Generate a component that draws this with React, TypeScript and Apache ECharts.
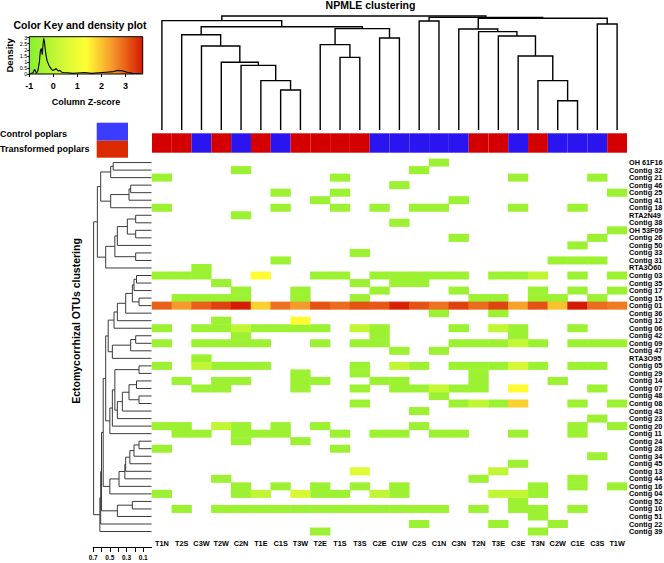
import React, { useEffect, useRef } from 'react';
import * as echarts from 'echarts';

const FONT = '"Liberation Sans", Arial, Helvetica, sans-serif';

// Samples (columns), in dendrogram order
const columns = ['T1N','T2S','C3W','T2W','C2N','T1E','C1S','T3W','T2E','T1S','T3S','C2E','C1W','C2S','C1N','C3N','T2N','T3E','C3E','T3N','C2W','C1E','C3S','T1W'];

// OTUs (rows), top to bottom
const rows = ['OH 61F16','Contig 32','Contig 21','Contig 46','Contig 25','Contig 41','Contig 18','RTA2N49','Contig 38','OH 53F09',
  'Contig 26','Contig 50','Contig 33','Contig 31','RTA3O60','Contig 03','Contig 35','Contig 17','Contig 15','Contig 01',
  'Contig 36','Contig 12','Contig 06','Contig 42','Contig 09','Contig 47','RTA3O95','Contig 05','Contig 29','Contig 14',
  'Contig 07','Contig 48','Contig 08','Contig 43','Contig 23','Contig 20','Contig 11','Contig 24','Contig 28','Contig 34',
  'Contig 45','Contig 13','Contig 44','Contig 16','Contig 04','Contig 52','Contig 10','Contig 51','Contig 22','Contig 39'];

// z-score of the common (lime green) cells
const LIME_Z = -0.6;

// columns holding a lime-green cell, per row
const cellColumns: number[][] = [
  [14],
  [4, 13],
  [0, 9, 18, 22],
  [12],
  [6, 9, 23],
  [8, 15],
  [0, 6, 9, 11, 13, 14, 18, 21],
  [4],
  [12],
  [23],
  [15, 22],
  [21],
  [10],
  [6, 20, 21, 22],
  [2],
  [0, 1, 2, 8, 9, 11, 12, 13, 14, 15, 17, 18, 21, 23],
  [3, 10, 12, 13],
  [4, 7, 11, 15, 19, 21, 23],
  [1, 2, 3, 4, 7, 10, 16, 17, 19, 20, 22],
  [],
  [14, 17],
  [3],
  [0, 2, 3, 5, 6, 7, 8, 11, 15, 18, 21],
  [4, 11, 18],
  [0, 2, 3, 4, 5, 8, 10, 11, 15, 16, 17, 19, 21, 22, 23],
  [12, 14],
  [2],
  [0, 3, 4, 5, 10, 13, 15, 16, 17, 19, 21, 22],
  [7, 10, 16],
  [1, 3, 4, 7, 8, 11, 12, 16, 20],
  [2, 3, 7, 10, 12, 13, 15, 16, 22],
  [14],
  [10, 15, 17, 21, 23],
  [13],
  [22],
  [0, 1, 4, 6, 8, 13, 21, 23],
  [1, 2, 4, 5, 6, 9, 11, 12, 14, 15, 18, 21],
  [4, 7],
  [0, 9],
  [22],
  [18],
  [],
  [3, 16, 21],
  [4, 6, 8, 10, 12, 19, 21, 23],
  [0, 4, 8, 9, 12, 19],
  [18],
  [1, 3, 4, 5, 6, 7, 8, 9, 10, 11, 12, 13, 14, 16, 18, 19, 21],
  [19],
  [13, 17, 20],
  [8, 19],
];

// [row, column, z] for cells that are not lime green
const cellOverrides: [number, number, number][] = [
  [15, 5, 1.4], [15, 19, 0.05],
  [21, 7, 1.4],
  [22, 4, 0.05], [22, 10, 0.05], [22, 17, 0.05],
  [24, 18, 0.1],
  [27, 2, 0.05], [27, 12, 0.05], [27, 18, 0.5],
  [30, 14, 0.1], [30, 18, 1.4],
  [32, 16, 0.05], [32, 18, 1.85],
  [35, 3, 0.05],
  [41, 10, 0.69], [41, 17, 0.05],
  [44, 5, 0.05], [44, 7, 0.5], [44, 11, 0.05], [44, 17, 0.05], [44, 18, 0.05],
];

// Contig 01 row (index 19), all columns
const contig01Row = 19;
const contig01Z = [3.02, 2.42, 3.02, 3.32, 3.7, 1.85, 2.84, 2.42, 3.16, 2.9, 3.16, 3.11, 3.64, 3.16, 2.84, 3.32, 2.9, 3.3, 2.36, 3.16, 2.02, 3.72, 2.9, 2.76];

// Column dendrogram merges: [a, b, height]; numbers = leaves, 'nK' = merge K
const colMerges: [number | string, number | string, number][] = [
  [6, 7, 0.351], [5, 'n0', 0.433], [4, 'n1', 0.567], [3, 'n2', 0.594], [2, 'n3', 0.737], [1, 'n4', 0.836],
  [9, 10, 0.637], [8, 'n6', 0.749], [11, 12, 0.807], ['n7', 'n8', 0.889], ['n5', 'n9', 0.906], [0, 'n10', 0.959],
  [13, 14, 0.956], [20, 21, 0.257], [19, 'n13', 0.433], [18, 'n14', 0.649], [17, 'n15', 0.825], [16, 'n16', 0.863],
  [15, 'n17', 0.886], [22, 23, 0.930], ['n18', 'n19', 0.980], ['n12', 'n20', 0.988], ['n11', 'n21', 1.0],
];

// Row dendrogram merges (heights on the 0–0.7 distance scale)
const rowMerges: [number | string, number | string, number][] = [
  [0, 1, 0.46], ['n0', 2, 0.49], [3, 4, 0.25], ['n2', 5, 0.27], ['n3', 6, 0.49], ['n1', 'n4', 0.61],
  [7, 8, 0.19], [9, 10, 0.19], ['n6', 'n7', 0.29], ['n8', 11, 0.41], [12, 13, 0.19], ['n9', 'n10', 0.44],
  ['n11', 14, 0.55], ['n5', 'n12', 0.65],
  [15, 16, 0.18], ['n14', 17, 0.21], [18, 19, 0.15], ['n15', 'n16', 0.23], ['n17', 20, 0.31], ['n18', 21, 0.41],
  ['n19', 22, 0.45], [23, 24, 0.19], ['n21', 25, 0.25], ['n22', 26, 0.47], ['n20', 'n23', 0.52],
  [27, 28, 0.15], [29, 30, 0.18], [31, 32, 0.15], ['n26', 'n27', 0.27], ['n28', 33, 0.35], ['n29', 34, 0.41],
  ['n25', 'n30', 0.44], ['n31', 35, 0.47], ['n32', 36, 0.5], ['n24', 'n33', 0.55],
  [37, 38, 0.15], ['n35', 39, 0.21], ['n36', 40, 0.26], ['n37', 41, 0.31], ['n38', 42, 0.32], ['n39', 43, 0.39],
  ['n40', 44, 0.5], ['n34', 'n41', 0.58], [45, 46, 0.23], ['n43', 47, 0.41], ['n42', 'n44', 0.6],
  ['n45', 48, 0.61], ['n46', 49, 0.62], ['n13', 'n47', 0.695],
];

// Density curve of the colour key
const densityZ = [-0.95, -0.85, -0.78, -0.7, -0.64, -0.58, -0.54, -0.5, -0.46, -0.43, -0.4, -0.37, -0.34, -0.3, -0.26, -0.22, -0.18, -0.13, -0.08, -0.02, 0.05, 0.12, 0.2, 0.27, 0.35, 0.45, 0.6, 0.8, 1.0, 1.3, 1.6, 1.9, 2.2, 2.5, 2.7, 2.9, 3.1, 3.3, 3.6];
const densityY = [0.02, 0.1, 0.4, 0.05, 0.3, 1.0, 1.9, 2.1, 1.6, 2.4, 2.95, 2.7, 2.1, 1.5, 1.1, 0.9, 0.7, 0.55, 0.4, 0.3, 0.35, 0.45, 0.25, 0.3, 0.15, 0.12, 0.1, 0.05, 0.08, 0.12, 0.05, 0.1, 0.15, 0.2, 0.3, 0.25, 0.12, 0.05, 0.04];

const KEY_MIN = -1;
const KEY_MAX = 3.72;
const KEY_COLORS = ['#86f030', '#c8f736', '#ffff33', '#f5902a', '#d41a00'];
const BAR_RED = '#d40000';
const BAR_BLUE = '#2a14f0';

function dendroSegments(merges: [number | string, number | string, number][], orient: 'top' | 'left') {
  const segs: number[][] = [];
  const nodes: [number, number][] = [];
  const get = (ref: number | string): [number, number] =>
    typeof ref === 'number' ? [ref + 0.5, 0] : nodes[parseInt(String(ref).slice(1), 10)];
  merges.forEach(([a, b, h]) => {
    const [pa, ha] = get(a);
    const [pb, hb] = get(b);
    segs.push(orient === 'top' ? [pa, ha, pa, h, pb, h, pb, hb] : [ha, pa, h, pa, h, pb, hb, pb]);
    nodes.push([(pa + pb) / 2, h]);
  });
  return segs;
}

function polyRender(color: string, width: number) {
  return (params: any, api: any) => {
    const pts = [0, 1, 2, 3].map((k) => api.coord([api.value(2 * k), api.value(2 * k + 1)]));
    return {
      type: 'polyline',
      shape: { points: pts },
      style: { stroke: color, lineWidth: width, fill: 'none' },
      silent: true,
    };
  };
}

export default function App() {
  const ref = useRef<HTMLDivElement>(null);
  useEffect(() => {
    if (!ref.current) return;
    const chart = echarts.init(ref.current, undefined, { renderer: 'svg' });

    const heatData: number[][] = [];
    cellColumns.forEach((cols, r) => cols.forEach((c) => heatData.push([c, r, LIME_Z])));
    cellOverrides.forEach(([r, c, z]) => heatData.push([c, r, z]));
    contig01Z.forEach((z, c) => heatData.push([c, contig01Row, z]));

    const topSegs = dendroSegments(colMerges, 'top');
    const leftSegs = dendroSegments(rowMerges, 'left');

    const gridBase = { outerBoundsMode: 'none', containLabel: false };
    const boldText = { fontFamily: FONT, fontWeight: 'bold', color: '#000' };

    const option: any = {
      animation: false,
      backgroundColor: '#ffffff',
      textStyle: { fontFamily: FONT },
      grid: [
        { ...gridBase, left: 152, top: 16, width: 475, height: 114 },
        { ...gridBase, left: 152, top: 133.3, width: 475, height: 19.4 },
        { ...gridBase, left: 152, top: 158.8, width: 475, height: 376.5 },
        { ...gridBase, left: 93.2, top: 158.8, width: 58.3, height: 376.5 },
        {
          ...gridBase, left: 29.3, top: 36.7, width: 113.4, height: 37.3, show: true,
          borderColor: '#000', borderWidth: 1,
          backgroundColor: new echarts.graphic.LinearGradient(0, 0, 1, 0,
            KEY_COLORS.map((c, i) => ({ offset: i / (KEY_COLORS.length - 1), color: c }))),
        },
      ],
      xAxis: [
        { gridIndex: 0, type: 'value', min: 0, max: 24, show: false },
        { gridIndex: 1, type: 'category', data: columns, show: false },
        {
          gridIndex: 2, type: 'category', data: columns, position: 'bottom',
          axisLine: { show: false }, axisTick: { show: false }, splitLine: { show: false },
          axisLabel: { ...boldText, interval: 0, fontSize: 7.3, margin: 5 },
        },
        {
          gridIndex: 3, type: 'value', min: 0, max: 0.7, inverse: true, position: 'bottom', offset: 11.7,
          splitLine: { show: false },
          axisLine: { show: true, onZero: false, lineStyle: { color: '#000', width: 1 } },
          axisTick: { show: true, length: 5, lineStyle: { color: '#000', width: 1 }, customValues: [0.1, 0.2, 0.3, 0.4, 0.5, 0.6, 0.7] },
          axisLabel: { ...boldText, fontSize: 6.5, margin: 7, customValues: [0.1, 0.3, 0.5, 0.7], formatter: (v: number) => v.toFixed(1) },
        },
        {
          gridIndex: 4, type: 'value', min: KEY_MIN, max: KEY_MAX, splitLine: { show: false },
          axisLine: { show: false, onZero: false },
          axisTick: { show: true, length: 3, lineStyle: { color: '#000' }, customValues: [-1, 0, 1, 2, 3] },
          axisLabel: { ...boldText, fontSize: 9, margin: 7, customValues: [-1, 0, 1, 2, 3] },
          name: 'Column Z-score', nameLocation: 'middle', nameGap: 23,
          nameTextStyle: { ...boldText, fontSize: 9 },
        },
      ],
      yAxis: [
        { gridIndex: 0, type: 'value', min: 0, max: 1, show: false },
        { gridIndex: 1, type: 'value', min: 0, max: 1, show: false },
        {
          gridIndex: 2, type: 'category', data: rows, inverse: true, position: 'right',
          axisLine: { show: false }, axisTick: { show: false }, splitLine: { show: false },
          axisLabel: { ...boldText, interval: 0, fontSize: 7.3, margin: 2 },
        },
        { gridIndex: 3, type: 'value', min: 0, max: 50, inverse: true, show: false },
        {
          gridIndex: 4, type: 'value', min: 0, max: 3.08, splitLine: { show: false },
          axisLine: { show: false, onZero: false },
          axisTick: { show: true, length: 2, lineStyle: { color: '#000' }, customValues: [0, 0.5, 1, 1.5, 2, 2.5, 3] },
          axisLabel: { fontFamily: FONT, color: '#000', fontSize: 5.5, margin: 2, customValues: [0, 0.5, 1, 1.5, 2, 2.5, 3] },
          name: 'Density', nameLocation: 'middle', nameGap: 15,
          nameTextStyle: { ...boldText, fontSize: 9.5 },
        },
      ],
      visualMap: [{
        type: 'continuous', show: false, seriesIndex: 2, dimension: 2,
        min: KEY_MIN, max: KEY_MAX, inRange: { color: KEY_COLORS },
      }],
      series: [
        {
          type: 'custom', xAxisIndex: 0, yAxisIndex: 0, data: topSegs, clip: false, silent: true,
          encode: { x: [0, 2, 4, 6], y: [1, 3, 5, 7] },
          renderItem: polyRender('#000', 1.4),
        },
        {
          type: 'bar', xAxisIndex: 1, yAxisIndex: 1, barCategoryGap: '0%', barWidth: '100%', silent: true,
          data: columns.map((c) => ({ value: 1, itemStyle: { color: c[0] === 'T' ? BAR_RED : BAR_BLUE } })),
        },
        {
          type: 'heatmap', xAxisIndex: 2, yAxisIndex: 2, data: heatData, silent: true,
          itemStyle: { borderWidth: 0 }, emphasis: { disabled: true },
        },
        {
          type: 'custom', xAxisIndex: 3, yAxisIndex: 3, data: leftSegs, clip: false, silent: true,
          encode: { x: [0, 2, 4, 6], y: [1, 3, 5, 7] },
          renderItem: polyRender('#3a3a3a', 1),
        },
        {
          type: 'line', xAxisIndex: 4, yAxisIndex: 4, symbol: 'none', silent: true,
          data: densityZ.map((z, i) => [z, densityY[i]]),
          lineStyle: { color: '#000', width: 1.1 },
        },
      ],
      graphic: [
        {
          type: 'text', x: 370.5, y: 5, silent: true,
          style: { text: 'NPMLE clustering', font: `bold 10.5px ${FONT}`, fill: '#000', textAlign: 'center', textVerticalAlign: 'middle', align: 'center', verticalAlign: 'middle' },
        },
        {
          type: 'text', x: 80, y: 25, silent: true,
          style: { text: 'Color Key and density plot', font: `bold 10.5px ${FONT}`, fill: '#000', textAlign: 'center', textVerticalAlign: 'middle', align: 'center', verticalAlign: 'middle' },
        },
        {
          type: 'text', x: 0, y: 134, silent: true,
          style: { text: 'Control poplars', font: `bold 9px ${FONT}`, fill: '#000', textAlign: 'left', textVerticalAlign: 'middle', align: 'left', verticalAlign: 'middle' },
        },
        {
          type: 'text', x: 0, y: 149, silent: true,
          style: { text: 'Transformed poplars', font: `bold 9px ${FONT}`, fill: '#000', textAlign: 'left', textVerticalAlign: 'middle', align: 'left', verticalAlign: 'middle' },
        },
        { type: 'rect', silent: true, shape: { x: 96.7, y: 122.7, width: 31.3, height: 18 }, style: { fill: '#3a3cff' } },
        { type: 'rect', silent: true, shape: { x: 96.7, y: 140.7, width: 31.3, height: 17 }, style: { fill: '#dc2a00' } },
        {
          type: 'text', x: 76, y: 321, rotation: Math.PI / 2, silent: true,
          style: { text: 'Ectomycorrhizal OTUs clustering', font: `bold 10.5px ${FONT}`, fill: '#000', textAlign: 'center', textVerticalAlign: 'middle', align: 'center', verticalAlign: 'middle' },
        },
      ],
    };

    chart.setOption(option);
    return () => chart.dispose();
  }, []);

  return <div ref={ref} style={{ position: 'absolute', left: 0, top: 0, width: 664, height: 563 }} />;
}
